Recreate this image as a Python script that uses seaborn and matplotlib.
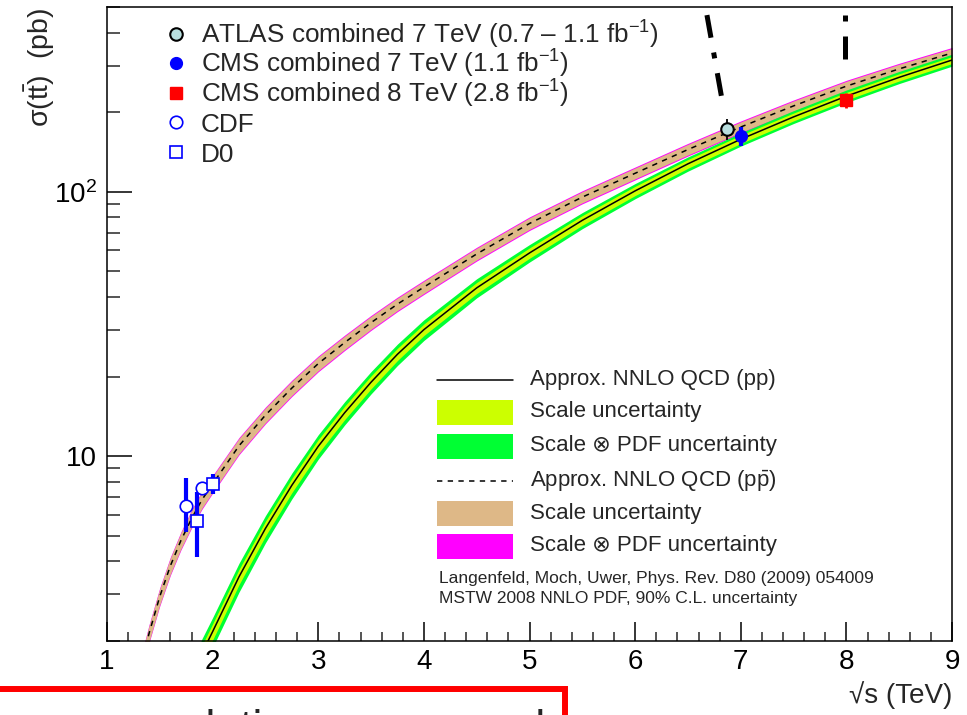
import numpy as np
import pandas as pd
import seaborn as sns
import matplotlib.pyplot as plt
from matplotlib.patches import Rectangle
from matplotlib.lines import Line2D
from matplotlib.ticker import MultipleLocator, LogLocator, NullFormatter, FixedLocator, FixedFormatter

# theory curves (sigma in pb)
pp_x = [1.8, 1.9, 2.0, 2.25, 2.5, 2.75, 3.0, 3.25, 3.5, 3.75, 4.0, 4.5, 5.0,
        5.5, 6.0, 6.5, 7.0, 7.5, 8.0, 8.5, 9.0]
pp_sigma = [1.45, 1.8, 2.17, 3.5, 5.33, 7.76, 10.9, 14.6, 19.05, 24.3, 30.1, 43.3,
            58.7, 78.0, 100.8, 127.6, 158, 192, 230, 271, 315]
pp_scale_unc = [0.07, 0.07, 0.07, 0.066, 0.064, 0.062, 0.06, 0.058, 0.056, 0.053,
                0.05, 0.048, 0.045, 0.042, 0.04, 0.038, 0.036, 0.034, 0.033, 0.031, 0.03]
pp_pdf_unc = [0.14, 0.135, 0.13, 0.125, 0.118, 0.112, 0.106, 0.101, 0.097, 0.093,
              0.09, 0.083, 0.076, 0.07, 0.066, 0.062, 0.058, 0.056, 0.055, 0.053, 0.052]

ppbar_x = [1.3, 1.35, 1.4, 1.5, 1.6, 1.7, 1.8, 1.9, 2.0, 2.25, 2.5, 2.75, 3.0, 3.25,
           3.5, 3.75, 4.0, 4.5, 5.0, 5.5, 6.0, 6.5, 7.0, 7.5, 8.0, 8.5, 9.0]
ppbar_sigma = [1.45, 1.8, 2.15, 2.95, 3.85, 4.8, 5.8, 6.85, 7.85, 10.95, 14.3, 18.1,
               22.4, 26.9, 32.0, 37.6, 43.6, 58.2, 75.9, 95.5, 117.5, 144.5, 175.8,
               211.3, 251, 291.7, 335]
ppbar_scale_unc = [0.07, 0.07, 0.07, 0.07, 0.07, 0.07, 0.07, 0.07, 0.068, 0.066, 0.064,
                   0.062, 0.06, 0.058, 0.056, 0.054, 0.053, 0.051, 0.05, 0.048, 0.047,
                   0.046, 0.045, 0.044, 0.043, 0.041, 0.04]
ppbar_pdf_unc = [u + 0.009 for u in ppbar_scale_unc]

# measurements
atlas = dict(x=[6.87], y=[173], lo=[16], hi=[15])
cms7 = dict(x=[7.0], y=[163], lo=[14], hi=[13])
cms8 = dict(x=[8.0], y=[222], lo=[14], hi=[14])
cdf = dict(x=[1.75, 1.9], y=[6.5, 7.57], lo=[1.35, 0.35], hi=[1.75, 0.35])
d0 = dict(x=[1.85, 2.0], y=[5.7, 7.82], lo=[1.55, 0.62], hi=[1.63, 0.73])

# dash-dot fragments at the top of the frame
frag1_x = [6.68, 6.83]
frag1_y = [466, 215]
frag2_x = [7.99, 7.99]
frag2_y = [465, 307]

legend_labels = ['ATLAS combined 7 TeV (0.7 – 1.1 fb$^{-1}$)',
                 'CMS combined 7 TeV (1.1 fb$^{-1}$)',
                 'CMS combined 8 TeV (2.8 fb$^{-1}$)',
                 'CDF', 'D0']
band_labels = ['Approx. NNLO QCD (pp)', 'Scale uncertainty', 'Scale ⊗ PDF uncertainty',
               'Approx. NNLO QCD (p$\\bar{\\mathrm{p}}$)', 'Scale uncertainty',
               'Scale ⊗ PDF uncertainty']
notes = ['Langenfeld, Moch, Uwer, Phys. Rev. D80 (2009) 054009',
         'MSTW 2008 NNLO PDF, 90% C.L. uncertainty']

c_yel = '#ccff00'
c_grn = '#00ff33'
c_tan = '#deb887'
c_mag = '#ff00ff'

sns.set_theme(style='ticks')
plt.rcParams['font.family'] = ['Liberation Sans', 'DejaVu Sans']
plt.rcParams['mathtext.fontset'] = 'custom'
plt.rcParams['mathtext.rm'] = 'Liberation Sans'
plt.rcParams['mathtext.it'] = 'Liberation Sans:italic'
plt.rcParams['mathtext.bf'] = 'Liberation Sans:bold'

W, H = 967, 715
fig = plt.figure(figsize=(W / 100, H / 100), dpi=100)
L, R, T, B = 107, 952, 7, 641
ax = fig.add_axes([L / W, 1 - B / H, (R - L) / W, (B - T) / H])


def af(px, py):
    return (px - L) / (R - L), (B - py) / (B - T)


pp = pd.DataFrame({'x': pp_x, 's': pp_sigma, 'u1': pp_scale_unc, 'u2': pp_pdf_unc})
pb = pd.DataFrame({'x': ppbar_x, 's': ppbar_sigma, 'u1': ppbar_scale_unc, 'u2': ppbar_pdf_unc})

# ppbar bands first, pp bands on top
ax.fill_between(pb.x, pb.s * (1 - pb.u2), pb.s * (1 + pb.u2), color=c_mag, lw=0, zorder=1)
ax.fill_between(pb.x, pb.s * (1 - pb.u1), pb.s * (1 + pb.u1), color=c_tan, lw=0, zorder=1.1)
ax.fill_between(pp.x, pp.s * (1 - pp.u2), pp.s * (1 + pp.u2), color=c_grn, lw=0, zorder=1.2)
ax.fill_between(pp.x, pp.s * (1 - pp.u1), pp.s * (1 + pp.u1), color=c_yel, lw=0, zorder=1.3)
sns.lineplot(data=pp, x='x', y='s', ax=ax, color='black', lw=1.1, zorder=2)
sns.lineplot(data=pb, x='x', y='s', ax=ax, color='black', lw=1.1, zorder=2,
             linestyle=(0, (3.5, 3.5)))

# data points
ax.errorbar(cdf['x'], cdf['y'], yerr=[cdf['lo'], cdf['hi']], fmt='o', ms=9,
            mfc='white', mec='blue', mew=1.2, ecolor='blue', elinewidth=3, capsize=0, zorder=5)
ax.errorbar(d0['x'], d0['y'], yerr=[d0['lo'], d0['hi']], fmt='s', ms=9,
            mfc='white', mec='blue', mew=1.2, ecolor='blue', elinewidth=3, capsize=0, zorder=5)
ax.errorbar(atlas['x'], atlas['y'], yerr=[atlas['lo'], atlas['hi']], fmt='o', ms=9,
            mfc='#b8dede', mec='black', mew=1.5, ecolor='black', elinewidth=1.3, capsize=0, zorder=6)
ax.errorbar(cms7['x'], cms7['y'], yerr=[cms7['lo'], cms7['hi']], fmt='o', ms=8.5,
            mfc='blue', mec='blue', ecolor='blue', elinewidth=3, capsize=0, zorder=6)
ax.errorbar(cms8['x'], cms8['y'], yerr=[cms8['lo'], cms8['hi']], fmt='s', ms=9,
            mfc='red', mec='red', ecolor='red', elinewidth=2, capsize=0, zorder=6)

ax.plot(frag1_x, frag1_y, color='black', lw=3.6, linestyle=(0, (4.6, 3, 1.2, 3)),
        solid_capstyle='butt', dash_capstyle='butt', zorder=4)
ax.plot(frag2_x, frag2_y, color='black', lw=3.6, linestyle=(7.6, (4.6, 3, 1.2, 3)),
        solid_capstyle='butt', dash_capstyle='butt', zorder=4)

ax.set_yscale('log')
ax.set_xlim(1, 9)
ax.set_ylim(2, 500)
ax.set_xlabel('')
ax.set_ylabel('')
ax.xaxis.set_major_locator(MultipleLocator(1))
ax.xaxis.set_minor_locator(MultipleLocator(0.2))
ax.yaxis.set_major_locator(FixedLocator([10, 100]))
ax.yaxis.set_major_formatter(FixedFormatter(['10', '$10^{2}$']))
ax.yaxis.set_minor_locator(LogLocator(base=10, subs=np.arange(2, 10)))
ax.yaxis.set_minor_formatter(NullFormatter())
ax.tick_params(axis='x', which='major', direction='in', length=13.5, width=1.1,
               labelsize=20, pad=6, colors='black')
ax.tick_params(axis='x', which='minor', direction='in', length=6.5, width=1.1)
ax.tick_params(axis='y', which='major', direction='in', length=18, width=1.1,
               labelsize=20, pad=7, colors='black')
ax.tick_params(axis='y', which='minor', direction='in', length=9.4, width=1.1)
for sp in ax.spines.values():
    sp.set_visible(True)
    sp.set_linewidth(1.1)
    sp.set_color('black')

# axis titles, ROOT style
ax.text(af(40, 0)[0], af(0, 8)[1], 'σ(t$\\bar{\\mathrm{t}}$)  (pb)', transform=ax.transAxes,
        rotation=90, ha='center', va='top', fontsize=20.5)
ax.text(1.0, af(0, 695)[1], '√s (TeV)', transform=ax.transAxes, ha='right',
        va='center', fontsize=20)

# marker legend (top left)
mk_rows = [34, 63, 93, 122, 152]
mk_style = [dict(marker='o', ms=9, mfc='#b8dede', mec='black', mew=1.5),
            dict(marker='o', ms=8.5, mfc='blue', mec='blue'),
            dict(marker='s', ms=9, mfc='red', mec='red'),
            dict(marker='o', ms=9, mfc='white', mec='blue', mew=1.2),
            dict(marker='s', ms=9, mfc='white', mec='blue', mew=1.2)]
for lab, row, st in zip(legend_labels, mk_rows, mk_style):
    mx, my = af(176, row)
    ax.add_line(Line2D([mx], [my], transform=ax.transAxes, ls='none', clip_on=False, **st))
    tx, ty = af(201, row + 9.5)
    ax.text(tx, ty, lab, transform=ax.transAxes, ha='left', va='baseline', fontsize=18.8)

# band legend (bottom right)
band_rows = [380, 412, 446, 481, 513, 546]
for i, (lab, row) in enumerate(zip(band_labels, band_rows)):
    x0, y0 = af(437, row)
    x1, _ = af(513, row)
    if i in (0, 3):
        ax.add_line(Line2D([x0, x1], [y0, y0], transform=ax.transAxes, color='black',
                           lw=1.1, ls='-' if i == 0 else (0, (3.5, 3.5))))
    else:
        col = [None, c_yel, c_grn, None, c_tan, c_mag][i]
        _, hy = af(0, row + 12.5)
        _, hy2 = af(0, row - 12.5)
        ax.add_patch(Rectangle((x0, hy), x1 - x0, hy2 - hy, transform=ax.transAxes,
                               color=col, lw=0))
    tx, ty = af(530, row)
    ax.text(tx, ty, lab, transform=ax.transAxes, ha='left', va='center', fontsize=16)
for note, row in zip(notes, [579, 598]):
    tx, ty = af(439, row)
    ax.text(tx, ty, note, transform=ax.transAxes, ha='left', va='center', fontsize=12.5)

# red frame of the slide below the plot, with its text cut by the page edge
fig.add_artist(Line2D([0, 567 / W], [1 - 689 / H, 1 - 689 / H], color='red', lw=4.3,
                      transform=fig.transFigure, solid_capstyle='butt'))
fig.add_artist(Line2D([564.5 / W, 564.5 / W], [1 - 686 / H, 0], color='red', lw=4.3,
                      transform=fig.transFigure, solid_capstyle='butt'))
fig.text(166 / W, 1 - 709 / H, 'relations', fontsize=32, va='top', ha='left')
fig.text(471 / W, 1 - 709 / H, 'and', fontsize=32, va='top', ha='left')

fig.savefig('out.png', dpi=100)
